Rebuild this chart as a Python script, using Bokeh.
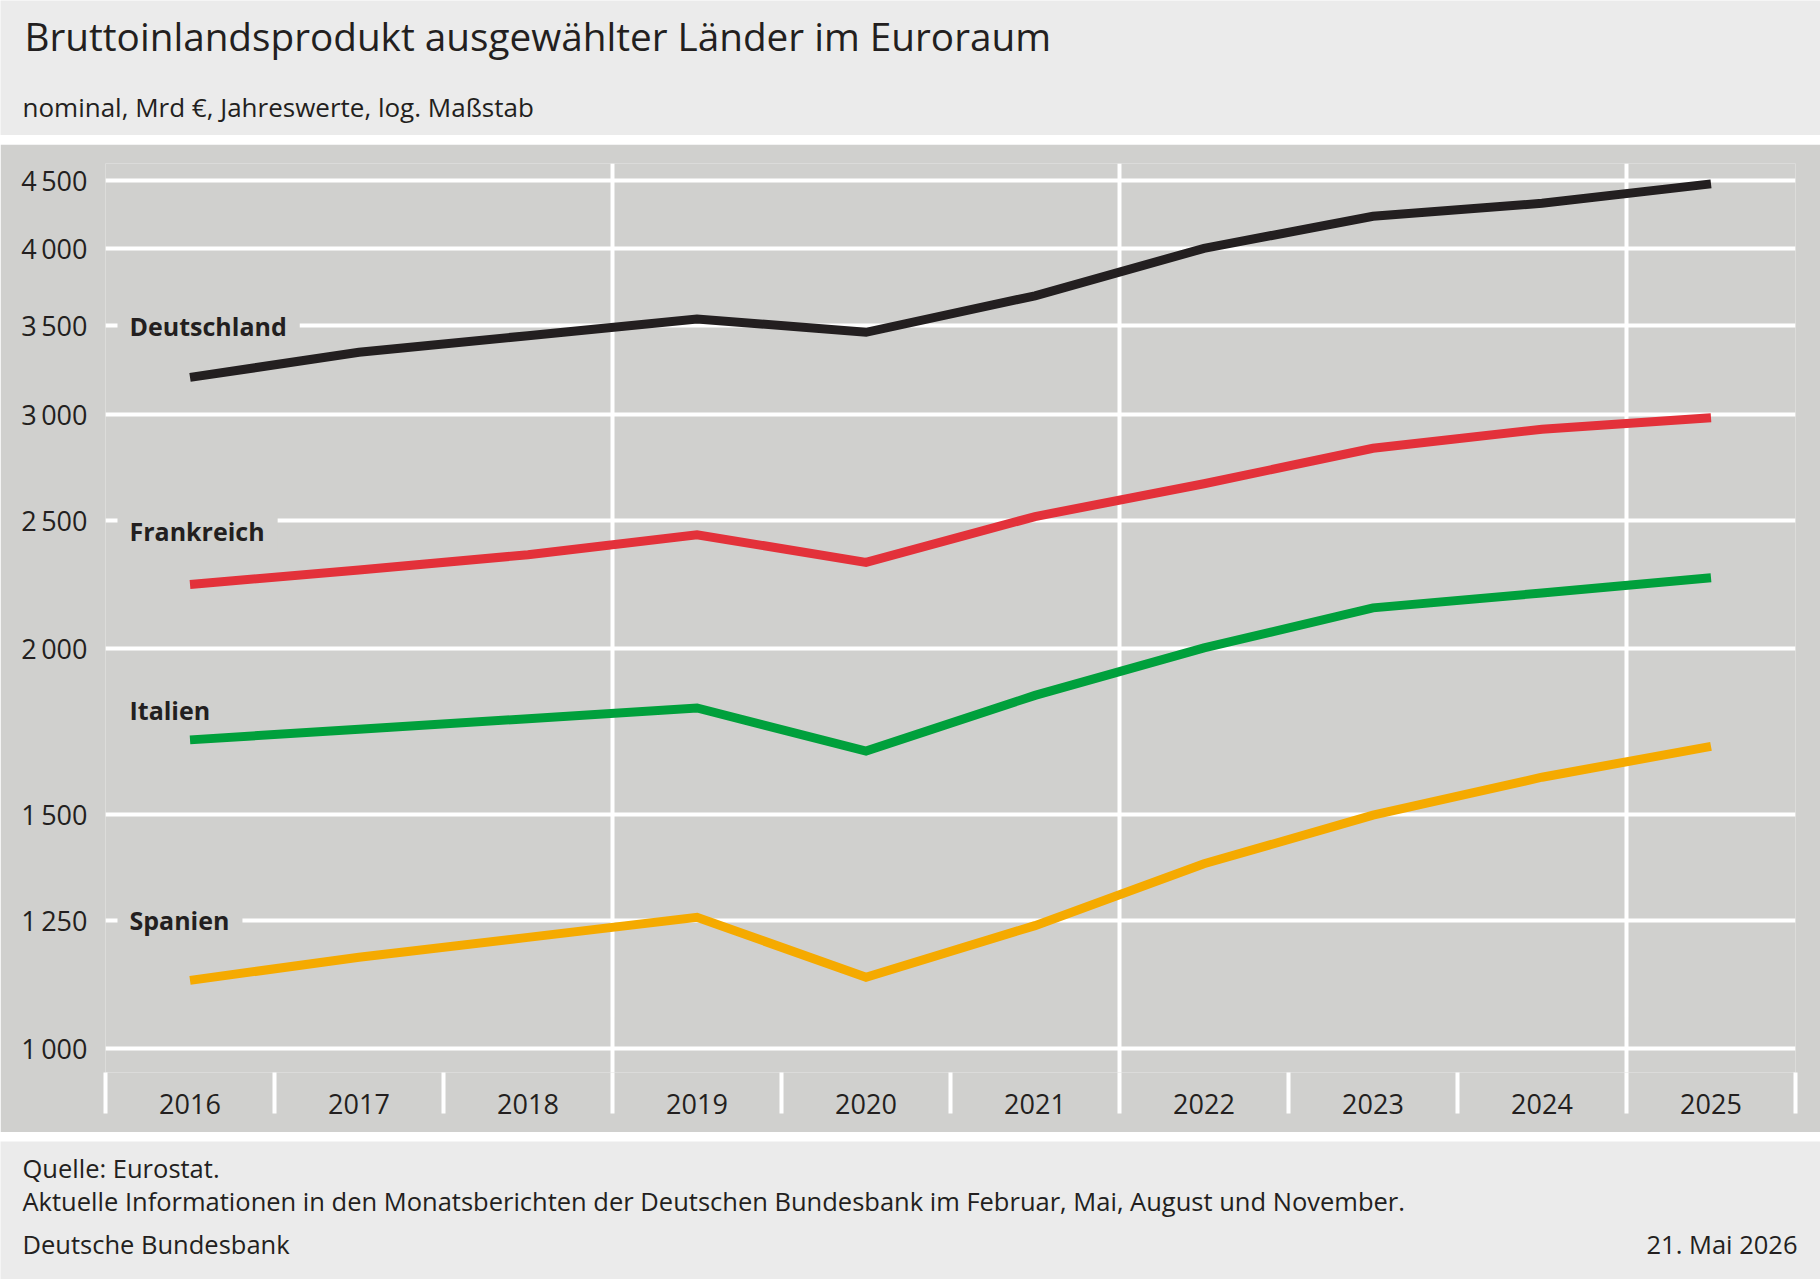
from bokeh.plotting import figure
from bokeh.models import Range1d, FixedTicker, Label
from bokeh.layouts import column
from bokeh.embed import file_html
from bokeh.resources import INLINE

# ---- data (Mrd EUR, nominal) ----
years = [2016, 2017, 2018, 2019, 2020, 2021, 2022, 2023, 2024, 2025]
deutschland = [3201, 3343, 3441, 3542, 3461, 3687, 4003, 4232, 4328, 4476]
frankreich = [2236, 2293, 2354, 2437, 2323, 2515, 2662, 2831, 2926, 2985]
italien = [1708, 1740, 1772, 1805, 1675, 1845, 2003, 2147, 2203, 2262]
spanien = [1126, 1172, 1213, 1256, 1132, 1238, 1378, 1499, 1601, 1689]

y_ticks = [1000, 1250, 1500, 2000, 2500, 3000, 3500, 4000, 4500]
y_tick_labels = ["1\u2009000", "1\u2009250", "1\u2009500", "2\u2009000", "2\u2009500",
                 "3\u2009000", "3\u2009500", "4\u2009000", "4\u2009500"]

series_names = ["Deutschland", "Frankreich", "Italien", "Spanien"]

title = "Bruttoinlandsprodukt ausgewählter Länder im Euroraum"
subtitle = "nominal, Mrd €, Jahreswerte, log. Maßstab"
source = "Quelle: Eurostat."
note = "Aktuelle Informationen in den Monatsberichten der Deutschen Bundesbank im Februar, Mai, August und November."
publisher = "Deutsche Bundesbank"
date = "21. Mai 2026"

# ---- styling ----
FONT = "Open Sans"
TXT = "#231f20"
PLOT_BG = "#d0d0ce"
HEAD_BG = "#ebebeb"
colors = ["#231f20", "#e3313a", "#00a03c", "#f5aa00"]
label_y = [3500, 2453, 1799, 1250]

W = 1820
LEFT = 105
RIGHT = 25

# ---- header ----
hdr = figure(width=W, height=135, x_range=Range1d(0, 1), y_range=Range1d(0, 1),
             x_axis_location=None, y_axis_location=None, toolbar_location=None,
             output_backend="svg", min_border=0, frame_align=False,
             background_fill_color=HEAD_BG,
             border_fill_color=HEAD_BG, outline_line_color=None)
hdr.grid.visible = False
hdr.add_layout(Label(x=24, y=100, x_units="screen", y_units="screen", text=title,
                     text_font=FONT, text_font_size="38.7px", text_color=TXT,
                     text_baseline="middle"))
hdr.add_layout(Label(x=22, y=29, x_units="screen", y_units="screen", text=subtitle,
                     text_font=FONT, text_font_size="26px", text_color=TXT,
                     text_baseline="middle"))

# ---- main chart ----
bounds = [y - 0.5 for y in years] + [years[-1] + 0.5]

p = figure(width=W, height=988, x_range=Range1d(bounds[0], bounds[-1]),
           y_range=Range1d(959.8, 4637), y_axis_type="log",
           output_backend="svg", toolbar_location=None, frame_align=False,
           min_border_left=LEFT, min_border_right=RIGHT, min_border_top=19, min_border_bottom=60,
           background_fill_color=PLOT_BG, border_fill_color=PLOT_BG, outline_line_color=None)

p.xaxis.ticker = FixedTicker(ticks=years, minor_ticks=bounds)
p.xaxis.axis_line_color = None
p.xaxis.major_tick_line_color = None
p.xaxis.major_tick_out = 0
p.xaxis.major_tick_in = 0
p.xaxis.minor_tick_line_color = "white"
p.xaxis.minor_tick_line_width = 4
p.xaxis.minor_tick_out = 41
p.xaxis.minor_tick_in = 0
p.xaxis.major_label_standoff = -20
p.xaxis.major_label_text_font = FONT
p.xaxis.major_label_text_font_size = "27px"
p.xaxis.major_label_text_color = TXT

p.yaxis.ticker = FixedTicker(ticks=y_ticks, minor_ticks=[])
p.yaxis.major_label_overrides = {v: s for v, s in zip(y_ticks, y_tick_labels)}
p.yaxis.axis_line_color = None
p.yaxis.major_tick_line_color = None
p.yaxis.minor_tick_line_color = None
p.yaxis.major_tick_out = 0
p.yaxis.major_tick_in = 0
p.yaxis.major_label_standoff = 18
p.yaxis.major_label_text_font = FONT
p.yaxis.major_label_text_font_size = "27px"
p.yaxis.major_label_text_color = TXT

p.xgrid.ticker = FixedTicker(ticks=bounds[3:10:3])
p.xgrid.grid_line_color = "white"
p.xgrid.grid_line_width = 4
p.ygrid.ticker = FixedTicker(ticks=y_ticks)
p.ygrid.grid_line_color = "white"
p.ygrid.grid_line_width = 4

for vals, c in zip([deutschland, frankreich, italien, spanien], colors):
    p.line(years, vals, line_color=c, line_width=9, line_join="miter")

for name, ly in zip(series_names, label_y):
    p.add_layout(Label(x=12, y=ly, x_units="screen", y_units="data", text=name,
                       text_font=FONT, text_font_size="25px", text_font_style="bold",
                       text_color=TXT, text_baseline="middle",
                       background_fill_color=PLOT_BG,
                       padding=dict(left=12, right=13, top=2, bottom=2)))

# ---- footer ----
ftr = figure(width=W, height=138, x_range=Range1d(0, 1), y_range=Range1d(0, 1),
             x_axis_location=None, y_axis_location=None, toolbar_location=None,
             output_backend="svg", min_border=0, frame_align=False,
             background_fill_color=HEAD_BG,
             border_fill_color=HEAD_BG, outline_line_color=None)
ftr.grid.visible = False
for txt, yy in [(source, 112), (note, 78.5), (publisher, 36)]:
    ftr.add_layout(Label(x=22, y=yy, x_units="screen", y_units="screen", text=txt,
                         text_font=FONT, text_font_size="25.5px", text_color=TXT,
                         text_baseline="middle"))
ftr.add_layout(Label(x=1797, y=36, x_units="screen", y_units="screen", text=date,
                     text_font=FONT, text_font_size="25.5px", text_color=TXT,
                     text_baseline="middle", text_align="right"))

layout = column(hdr, p, ftr, spacing=9)
open("out.html", "w").write(file_html(layout, INLINE))
